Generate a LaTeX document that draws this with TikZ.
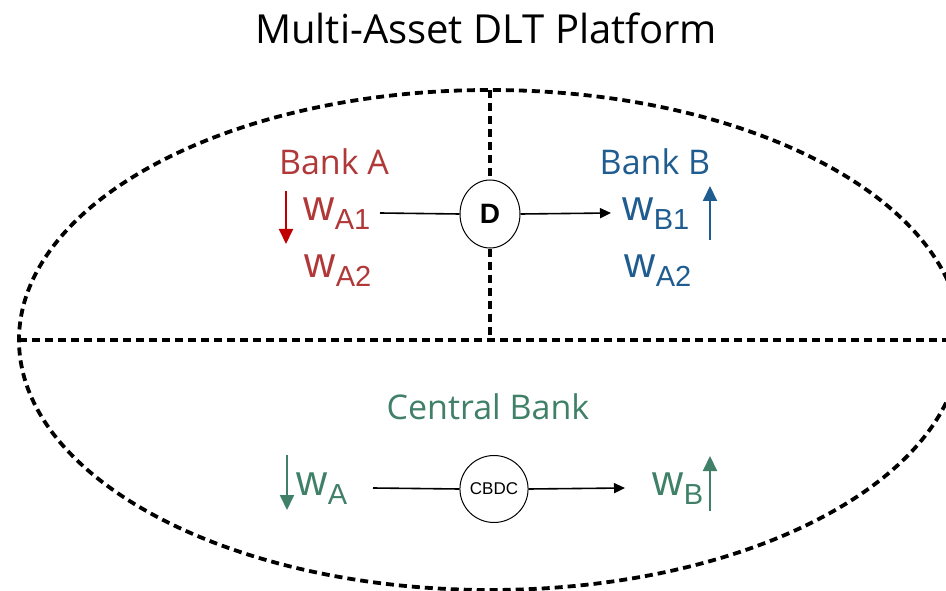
\documentclass[tikz,border=0pt]{standalone}
\usepackage{fontspec}
\setmainfont{Open Sans}
\newfontfamily\arialfam{Liberation Sans}
\usetikzlibrary{arrows.meta,shapes.geometric}
\definecolor{bankA}{RGB}{176,56,56}
\definecolor{arrA}{RGB}{192,0,0}
\definecolor{bankB}{RGB}{31,92,143}
\definecolor{cbank}{RGB}{64,128,104}
\newcommand\wlab[1]{{\arialfam\fontsize{43}{43}\selectfont w\raisebox{-9pt}{\fontsize{29}{29}\selectfont #1}}}
\begin{document}
\begin{tikzpicture}[x=1pt,y=-1pt,
  dsh/.style={line width=3.8pt,dash pattern=on 8pt off 5pt},
  circ/.style={draw,ellipse,line width=1pt,minimum width=60pt,minimum height=68pt,inner sep=0pt,fill=white},
  lbl/.style={inner sep=0pt,anchor=center},
  conn/.style={line width=1.6pt,-{Triangle[width=10pt,length=11pt]}},
  vert/.style={line width=2pt,-{Triangle[width=14pt,length=15pt]}}]
\useasboundingbox (0,0) rectangle (946,591);
\clip (0,0) rectangle (946,591);
\node[lbl] (title) at (486,28) {\fontsize{40}{40}\selectfont Multi-Asset DLT Platform};
% ellipse and dividers
\draw[dsh] (490,340) ellipse [x radius=471, y radius=250];
\coordinate (hl) at (19,340);
\coordinate (hr) at (950,340);
\draw[dsh] (hl) -- (hr);
\node[circ] (D) at (490,214) {\arialfam\bfseries\fontsize{28}{28}\selectfont D};
\coordinate (vt) at (490,90);
\coordinate (vb) at (490,340);
\draw[dsh] (vt) -- (D.north);
\draw[dsh] (D.south) -- (vb);
% Bank A
\node[lbl,text=bankA] (bankA) at (334,162) {\fontsize{34}{34}\selectfont Bank A};
\node[lbl,text=bankA] (wA1) at (337,214) {\wlab{A1}};
\node[lbl,text=bankA] (wA2) at (338,271) {\wlab{A2}};
\coordinate (ra1) at (286,191);
\coordinate (ra2) at (286,244);
\draw[vert,draw=arrA,fill=arrA] (ra1) -- (ra2);
% Bank B
\node[lbl,text=bankB] (bankB) at (655,162) {\fontsize{34}{34}\selectfont Bank B};
\node[lbl,text=bankB] (wB1) at (656,214) {\wlab{B1}};
\node[lbl,text=bankB] (wB2) at (658,271) {\wlab{A2}};
\coordinate (rb1) at (710,240);
\coordinate (rb2) at (710,186);
\draw[vert,draw=bankB,fill=bankB] (rb1) -- (rb2);
% D connectors
\coordinate (c1) at (380,213);
\coordinate (c2) at (611,213);
\draw[line width=1.6pt] (c1) -- (D.west);
\draw[conn] (D.east) -- (c2);
% Central bank
\node[lbl,text=cbank] (cb) at (488,407) {\fontsize{34}{34}\selectfont Central Bank};
\node[lbl,text=cbank] (wA) at (322,489) {\wlab{A}};
\node[lbl,text=cbank] (wB) at (678,489) {\wlab{B}};
\coordinate (g1) at (287,455);
\coordinate (g2) at (287,510);
\draw[vert,draw=cbank,fill=cbank] (g1) -- (g2);
\coordinate (g3) at (710,511);
\coordinate (g4) at (710,456);
\draw[vert,draw=cbank,fill=cbank] (g3) -- (g4);
\node[circ,minimum width=62pt,minimum height=67pt] (CBDC) at (494,489) {\arialfam\fontsize{17}{17}\selectfont CBDC};
\coordinate (d1) at (373,488);
\coordinate (d2) at (625,488);
\draw[line width=1.6pt] (d1) -- (CBDC.west);
\draw[conn] (CBDC.east) -- (d2);
\end{tikzpicture}
\end{document}
